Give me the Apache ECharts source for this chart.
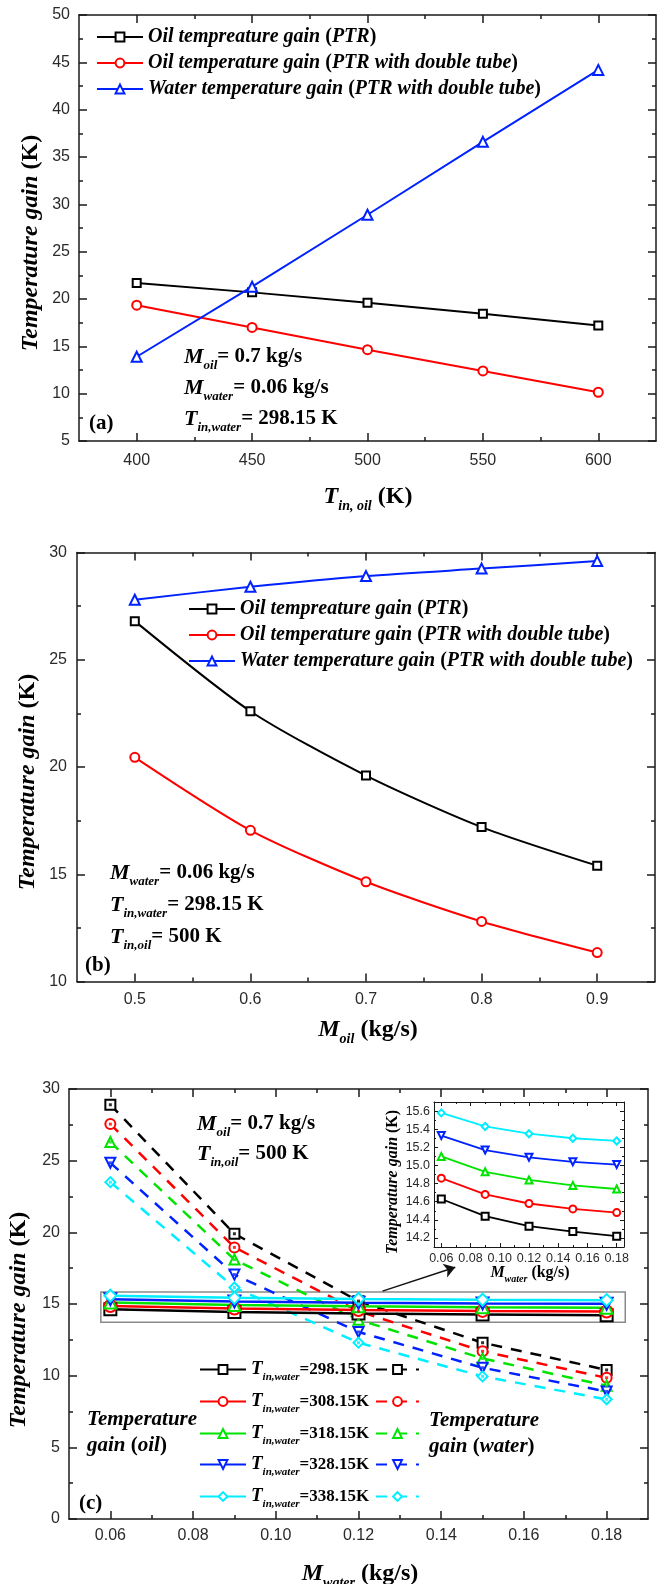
<!DOCTYPE html>
<html><head><meta charset="utf-8">
<script src="https://cdn.jsdelivr.net/npm/echarts@6/dist/echarts.min.js"></script>
<style>html,body{margin:0;padding:0;background:#fff}#c{width:667px;height:1584px}</style>
</head><body><div id="c"></div>
<script>
// ---------- DATA ----------
// Panel (a): x = T_in,oil (K)
const aX = [400, 450, 500, 550, 600];
const aOilPTR = [21.7, 20.7, 19.6, 18.45, 17.2];
const aOilDouble = [19.35, 17.0, 14.65, 12.4, 10.15];
const aWaterDouble = [13.9, 21.3, 28.9, 36.6, 44.2];
const aLegend = ['Oil tempreature gain (PTR)', 'Oil temperature gain (PTR with double tube)', 'Water temperature gain (PTR with double tube)'];
const aXTicks = [400, 450, 500, 550, 600];
const aXMinor = [425, 475, 525, 575];
const aYTicks = [5, 10, 15, 20, 25, 30, 35, 40, 45, 50];
const aYMinor = [7.5, 12.5, 17.5, 22.5, 27.5, 32.5, 37.5, 42.5, 47.5];

// Panel (b): x = M_oil (kg/s)
const bX = [0.5, 0.6, 0.7, 0.8, 0.9];
const bOilPTR = [26.8, 22.6, 19.6, 17.2, 15.4];
const bOilDouble = [20.45, 17.05, 14.65, 12.8, 11.35];
const bWaterDouble = [27.8, 28.4, 28.9, 29.25, 29.6];
const bXTicks = [0.5, 0.6, 0.7, 0.8, 0.9];
const bXMinor = [0.55, 0.65, 0.75, 0.85];
const bYTicks = [10, 15, 20, 25, 30];
const bYMinor = [12.5, 17.5, 22.5, 27.5];

// Panel (c): x = M_water (kg/s)
const cX = [0.06, 0.09, 0.12, 0.15, 0.18];
const cTemps = ['298.15', '308.15', '318.15', '328.15', '338.15'];
const cOil298 = [14.63, 14.44, 14.33, 14.27, 14.22];
const cOil308 = [14.86, 14.68, 14.58, 14.52, 14.48];
const cOil318 = [15.10, 14.93, 14.84, 14.78, 14.74];
const cOil328 = [15.33, 15.17, 15.09, 15.04, 15.01];
const cOil338 = [15.58, 15.43, 15.35, 15.30, 15.27];
const cWater298 = [28.9, 19.9, 15.2, 12.3, 10.4];
const cWater308 = [27.55, 18.95, 14.5, 11.7, 9.85];
const cWater318 = [26.3, 18.1, 13.9, 11.2, 9.3];
const cWater328 = [24.85, 17.05, 13.05, 10.55, 8.9];
const cWater338 = [23.5, 16.15, 12.3, 9.95, 8.35];
const cXTicks = [0.06, 0.08, 0.10, 0.12, 0.14, 0.16, 0.18];
const cXMinor = [0.07, 0.09, 0.11, 0.13, 0.15, 0.17];
const cYTicks = [0, 5, 10, 15, 20, 25, 30];
const cYMinor = [2.5, 7.5, 12.5, 17.5, 22.5, 27.5];
const cZoomBox = [[0.0577, 15.83], [0.1845, 13.73]];
const cArrow = [[0.1258, 15.9], [0.1434, 17.57]];
// inset
const iXTicks = [0.06, 0.08, 0.10, 0.12, 0.14, 0.16, 0.18];
const iXMinor = [0.07, 0.09, 0.11, 0.13, 0.15, 0.17];
const iYTicks = [14.2, 14.4, 14.6, 14.8, 15.0, 15.2, 15.4, 15.6];
const iYMinor = [14.3, 14.5, 14.7, 14.9, 15.1, 15.3, 15.5];

// ---------- STYLE ----------
const SERIF = "'Liberation Serif', 'Times New Roman', serif";
const SANS = "'Liberation Sans', Arial, sans-serif";
const AXC = '#1a1a1a';
const COL = ['#000000', '#ff0000', '#00e400', '#0022ff', '#00eeff'];
const SYM = ['emptyRect', 'emptyCircle', 'emptyTriangle', 'emptyTriangle', 'emptyDiamond'];
const ROT = [0, 0, 0, 180, 0];

const xAxes = [], yAxes = [];
function addAxes(list, grid, isX, min, max, majors, minors, o) {
  const pos = isX ? ['bottom', 'top'] : ['left', 'right'];
  const idx = list.length;
  pos.forEach((p, k) => {
    list.push({
      type: 'value', gridIndex: grid, position: p, min, max,
      axisLine: { show: true, onZero: false, lineStyle: { color: AXC, width: o.lw } },
      axisTick: { show: true, inside: true, length: o.major, customValues: majors, lineStyle: { color: AXC, width: o.lw } },
      axisLabel: { show: k === 0, customValues: majors, margin: o.margin, fontFamily: SANS, fontSize: o.fs, color: '#2a2a2a', formatter: o.fmt },
      splitLine: { show: false }
    });
    list.push({
      type: 'value', gridIndex: grid, position: p, min, max,
      axisLine: { show: false, onZero: false },
      axisTick: { show: true, inside: true, length: o.minor, customValues: minors, lineStyle: { color: AXC, width: o.lw } },
      axisLabel: { show: false },
      splitLine: { show: false }
    });
  });
  return idx;
}
const intFmt = v => String(Math.round(v));
const ax = {
  aX: addAxes(xAxes, 0, true, 375, 625, aXTicks, aXMinor, { lw: 1.5, major: 8, minor: 4, fs: 16, margin: 12, fmt: intFmt }),
  aY: addAxes(yAxes, 0, false, 5, 50, aYTicks, aYMinor, { lw: 1.5, major: 8, minor: 4, fs: 16, margin: 9, fmt: intFmt }),
  bX: addAxes(xAxes, 1, true, 0.45, 0.95, bXTicks, bXMinor, { lw: 1.5, major: 8, minor: 4, fs: 16, margin: 10, fmt: v => v.toFixed(1) }),
  bY: addAxes(yAxes, 1, false, 10, 30, bYTicks, bYMinor, { lw: 1.5, major: 8, minor: 4, fs: 16, margin: 10, fmt: intFmt }),
  cX: addAxes(xAxes, 2, true, 0.05, 0.19, cXTicks, cXMinor, { lw: 1.5, major: 8, minor: 4, fs: 16, margin: 9, fmt: v => v.toFixed(2) }),
  cY: addAxes(yAxes, 2, false, 0, 30, cYTicks, cYMinor, { lw: 1.5, major: 8, minor: 4, fs: 16, margin: 9, fmt: intFmt }),
  iX: addAxes(xAxes, 3, true, 0.055, 0.185, iXTicks, iXMinor, { lw: 1, major: 4, minor: 2, fs: 12.5, margin: 5, fmt: v => v.toFixed(2) }),
  iY: addAxes(yAxes, 3, false, 14.1, 15.7, iYTicks, iYMinor, { lw: 1, major: 4, minor: 2, fs: 12.5, margin: 4, fmt: v => v.toFixed(1) })
};
const pts = (xs, ys) => xs.map((x, i) => [x, ys[i]]);

const series = [];
// (a)
[aOilPTR, aOilDouble, aWaterDouble].forEach((d, k) => {
  const c = [COL[0], COL[1], COL[3]][k];
  series.push({ type: 'line', name: 'a' + k, xAxisIndex: ax.aX, yAxisIndex: ax.aY, data: pts(aX, d),
    symbol: ['emptyRect', 'emptyCircle', 'emptyTriangle'][k], symbolSize: [8, 9, 10][k],
    lineStyle: { color: c, width: 2 }, itemStyle: { color: c, borderWidth: 1.5 } });
});
// (b)
[bOilPTR, bOilDouble, bWaterDouble].forEach((d, k) => {
  const c = [COL[0], COL[1], COL[3]][k];
  series.push({ type: 'line', name: 'b' + k, xAxisIndex: ax.bX, yAxisIndex: ax.bY, data: pts(bX, d), smooth: 0.25,
    symbol: ['emptyRect', 'emptyCircle', 'emptyTriangle'][k], symbolSize: [8, 9, 10][k],
    lineStyle: { color: c, width: 2 }, itemStyle: { color: c, borderWidth: 1.5 } });
});
// (c)
const cOil = [cOil298, cOil308, cOil318, cOil328, cOil338];
const cWater = [cWater298, cWater308, cWater318, cWater328, cWater338];
cWater.forEach((d, k) => {
  const s = { type: 'line', name: 'w' + k, xAxisIndex: ax.cX, yAxisIndex: ax.cY, data: pts(cX, d),
    symbol: SYM[k], symbolRotate: ROT[k], symbolSize: 10,
    lineStyle: { color: COL[k], width: 2.5, type: [11, 9] }, itemStyle: { color: COL[k], borderWidth: 1.8 } };
  if (k === 0) {
    s.markLine = { silent: true, symbol: ['none', 'arrow'], symbolSize: 11, label: { show: false },
      lineStyle: { color: '#111', width: 1.5, type: 'solid' },
      data: [[{ coord: cArrow[0] }, { coord: cArrow[1] }]] };
    s.markArea = { silent: true, label: { show: false },
      itemStyle: { color: 'rgba(0,0,0,0)', borderColor: '#8a8a8a', borderWidth: 1.5 },
      data: [[{ coord: cZoomBox[0] }, { coord: cZoomBox[1] }]] };
  }
  series.push(s);
  series.push({ type: 'scatter', name: 'wd' + k, xAxisIndex: ax.cX, yAxisIndex: ax.cY, data: pts(cX, d),
    symbol: 'rect', symbolSize: 3, itemStyle: { color: COL[k] }, silent: true, z: 5 });
});
cOil.forEach((d, k) => {
  series.push({ type: 'line', name: 'o' + k, xAxisIndex: ax.cX, yAxisIndex: ax.cY, data: pts(cX, d),
    symbol: SYM[k], symbolRotate: ROT[k], symbolSize: 12,
    lineStyle: { color: COL[k], width: 2.5 }, itemStyle: { color: COL[k], borderWidth: 2 } });
});
cOil.forEach((d, k) => {
  series.push({ type: 'line', name: 'i' + k, xAxisIndex: ax.iX, yAxisIndex: ax.iY, data: pts(cX, d),
    symbol: SYM[k], symbolRotate: ROT[k], symbolSize: 7,
    lineStyle: { color: COL[k], width: 1.8 }, itemStyle: { color: COL[k], borderWidth: 1.3 } });
});

// ---------- TEXT ----------
const f = (size, italic, bold, pad) => ({ fontFamily: SERIF, fontSize: size, fontStyle: italic ? 'italic' : 'normal',
  fontWeight: bold ? 'bold' : 'normal', verticalAlign: 'middle', fill: '#000', color: '#000', padding: pad ? [pad, 0, 0, 0] : 0 });
const RICH = {
  b24: f(24, 1, 1), s14: f(14, 1, 1, 18), n24: f(24, 0, 1),
  b22: f(22, 1, 1), s13: f(13, 1, 1, 17), n22: f(21, 0, 1),
  i20: f(21, 1, 1), n20: f(21, 0, 1), s12: f(12, 1, 1, 16),
  i24: f(24, 1, 1),
  b16: f(16, 1, 1), s10: f(10, 1, 1, 12), n16: f(16, 0, 1), i16: f(16, 1, 1)
};
function txt(x, y, text, align, rot) {
  return { type: 'text', x, y, rotation: rot || 0, silent: true,
    style: { text, rich: RICH, align: align || 'left', verticalAlign: 'middle', fill: '#000' } };
}
const graphics = [
  // axis titles
  txt(31, 243, '{i24|Temperature gain }{n24|(K)}', 'center', Math.PI / 2),
  txt(368, 497, '{b24|T}{s14|in, oil}{n24| (K)}', 'center'),
  txt(28, 782, '{i24|Temperature gain }{n24|(K)}', 'center', Math.PI / 2),
  txt(368, 1030, '{b24|M}{s14|oil}{n24| (kg/s)}', 'center'),
  txt(19, 1320, '{i24|Temperature gain }{n24|(K)}', 'center', Math.PI / 2),
  txt(360, 1574, '{b24|M}{s14|water}{n24| (kg/s)}', 'center'),
  txt(393, 1182, '{i16|Temperature gain }{n16|(K)}', 'center', Math.PI / 2),
  txt(530, 1273, '{b16|M}{s10|water}{n16| (kg/s)}', 'center'),
  // (a) annotations
  txt(184, 357, '{b22|M}{s13|oil}{n22|= 0.7 kg/s}'),
  txt(184, 388, '{b22|M}{s13|water}{n22|= 0.06 kg/s}'),
  txt(184, 419, '{b22|T}{s13|in,water}{n22|= 298.15 K}'),
  txt(89, 424, '{n20|(a)}'),
  // (b)
  txt(110, 873, '{b22|M}{s13|water}{n22|= 0.06 kg/s}'),
  txt(110, 905, '{b22|T}{s13|in,water}{n22|= 298.15 K}'),
  txt(110, 937, '{b22|T}{s13|in,oil}{n22|= 500 K}'),
  txt(85, 966, '{n20|(b)}'),
  // (c)
  txt(197, 1124, '{b22|M}{s13|oil}{n22|= 0.7 kg/s}'),
  txt(197, 1154, '{b22|T}{s13|in,oil}{n22|= 500 K}'),
  txt(79, 1504, '{n20|(c)}'),
  txt(87, 1420, '{i20|Temperature}'),
  txt(87, 1446, '{i20|gain }{n20|(}{i20|oil}{n20|)}'),
  txt(429, 1421, '{i20|Temperature}'),
  txt(429, 1447, '{i20|gain }{n20|(}{i20|water}{n20|)}')
];

// ---------- LEGENDS ----------
const richParen = s => s.split(/([()])/).filter(t => t).map(t => (t === '(' || t === ')') ? `{n|${t}}` : `{i|${t}}`).join('');
const legRich = {
  i: { fontFamily: SERIF, fontSize: 20, fontStyle: 'italic', fontWeight: 'bold', color: '#000' },
  n: { fontFamily: SERIF, fontSize: 20, fontStyle: 'normal', fontWeight: 'bold', color: '#000' }
};
const legends = [
  { left: 96, top: 26, data: ['a0', 'a1', 'a2'] },
  { left: 188, top: 598, data: ['b0', 'b1', 'b2'] }
].map(l => Object.assign({ orient: 'vertical', padding: 0, itemWidth: 46, itemHeight: 11, itemGap: 4,
  selectedMode: false, formatter: n => richParen(aLegend[+n[1]]),
  textStyle: { fontFamily: SERIF, fontSize: 20, lineHeight: 22, fontStyle: 'italic', fontWeight: 'bold', color: '#000', rich: legRich } }, l));
const cRows = [1368, 1400, 1432, 1463, 1495];
const cLegRich = {
  b: { fontFamily: SERIF, fontSize: 19, fontStyle: 'italic', fontWeight: 'bold', color: '#000', verticalAlign: 'middle' },
  s: { fontFamily: SERIF, fontSize: 11, fontStyle: 'italic', fontWeight: 'bold', color: '#000', padding: [16, 0, 0, 0], verticalAlign: 'middle' },
  v: { fontFamily: SERIF, fontSize: 17, fontWeight: 'bold', color: '#000', verticalAlign: 'middle' }
};
cRows.forEach((y, k) => {
  legends.push({ orient: 'vertical', padding: 0, left: 199, top: y - 8, itemWidth: 46, itemHeight: 11, selectedMode: false,
    data: ['o' + k], formatter: () => `{b|T}{s|in,water}{v|=${cTemps[k]}K}`,
    textStyle: { rich: cLegRich } });
  legends.push({ orient: 'vertical', padding: 0, left: 375, top: y - 4, itemWidth: 43, itemHeight: 11, selectedMode: false,
    data: ['w' + k], formatter: () => '' });
});

const chart = echarts.init(document.getElementById('c'), null, { renderer: 'canvas' });
chart.setOption({
  animation: false,
  backgroundColor: '#fff',
  grid: [
    { left: 79, top: 15, width: 577, height: 426 },
    { left: 77, top: 552.5, width: 578, height: 429 },
    { left: 69, top: 1089, width: 579, height: 430 },
    { left: 434, top: 1102, width: 190, height: 145 }
  ],
  xAxis: xAxes,
  yAxis: yAxes,
  legend: legends,
  series,
  graphic: { elements: graphics }
});
</script></body></html>
